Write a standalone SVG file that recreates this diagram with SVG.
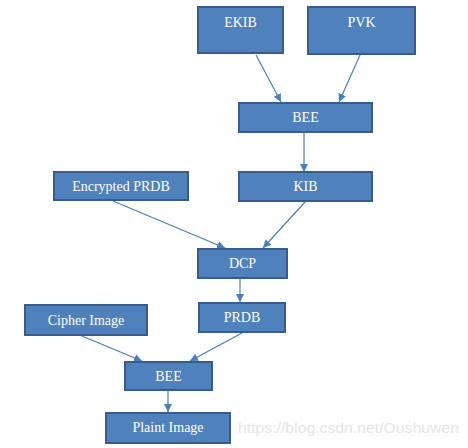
<svg xmlns="http://www.w3.org/2000/svg" width="468" height="448" viewBox="0 0 468 448">
<defs>
<marker id="ah" markerWidth="10" markerHeight="10" refX="8" refY="5" orient="auto" markerUnits="userSpaceOnUse">
<path d="M0,1 L8,5 L0,9 Z" fill="#4A7EBB"/>
</marker>
<style>
.box{fill:#4F81BD;stroke:#385D8A;stroke-width:2}
.t{fill:#fff;font-family:'Liberation Serif','Times New Roman',serif;font-size:14px;text-anchor:middle}
.c{stroke:#4A7EBB;stroke-width:1.2;fill:none;marker-end:url(#ah)}
</style>
</defs>
<rect width="468" height="448" fill="#fff"/>
<g id="connectors">
<line class="c" x1="256" y1="55" x2="281" y2="102"/>
<line class="c" x1="360" y1="55" x2="339" y2="102"/>
<line class="c" x1="304" y1="133" x2="304" y2="172"/>
<line class="c" x1="113" y1="201" x2="225" y2="248"/>
<line class="c" x1="305" y1="202" x2="263" y2="248"/>
<line class="c" x1="240" y1="279" x2="240" y2="302"/>
<line class="c" x1="82" y1="336" x2="142" y2="361"/>
<line class="c" x1="242" y1="333" x2="190" y2="361"/>
<line class="c" x1="168" y1="391" x2="168" y2="412"/>
</g>
<g id="EKIB"><rect class="box" x="198" y="7" width="85" height="46"/><text class="t" x="240.5" y="27">EKIB</text></g>
<g id="PVK"><rect class="box" x="308" y="7" width="107" height="47"/><text class="t" x="361.5" y="27">PVK</text></g>
<g id="BEE1"><rect class="box" x="239" y="103" width="133" height="29"/><text class="t" x="305.5" y="122">BEE</text></g>
<g id="EncryptedPRDB"><rect class="box" x="54" y="172" width="134" height="28"/><text class="t" x="121" y="191">Encrypted PRDB</text></g>
<g id="KIB"><rect class="box" x="239" y="172" width="133" height="29"/><text class="t" x="305.5" y="191">KIB</text></g>
<g id="DCP"><rect class="box" x="198" y="249" width="89" height="29"/><text class="t" x="242.5" y="268">DCP</text></g>
<g id="CipherImage"><rect class="box" x="25" y="305" width="122" height="30"/><text class="t" x="86" y="325">Cipher Image</text></g>
<g id="PRDB"><rect class="box" x="199" y="303" width="86" height="29"/><text class="t" x="242" y="322">PRDB</text></g>
<g id="BEE2"><rect class="box" x="125" y="362" width="87" height="28"/><text class="t" x="168.5" y="381">BEE</text></g>
<g id="PlaintImage"><rect class="box" x="106" y="413" width="124" height="30"/><text class="t" x="168" y="432">Plaint Image</text></g>
<text x="238" y="433" font-family="'Liberation Sans',Arial,sans-serif" font-size="14" fill="#e6e6e6" textLength="221" lengthAdjust="spacingAndGlyphs">https://blog.csdn.net/Oushuwen</text>
</svg>
